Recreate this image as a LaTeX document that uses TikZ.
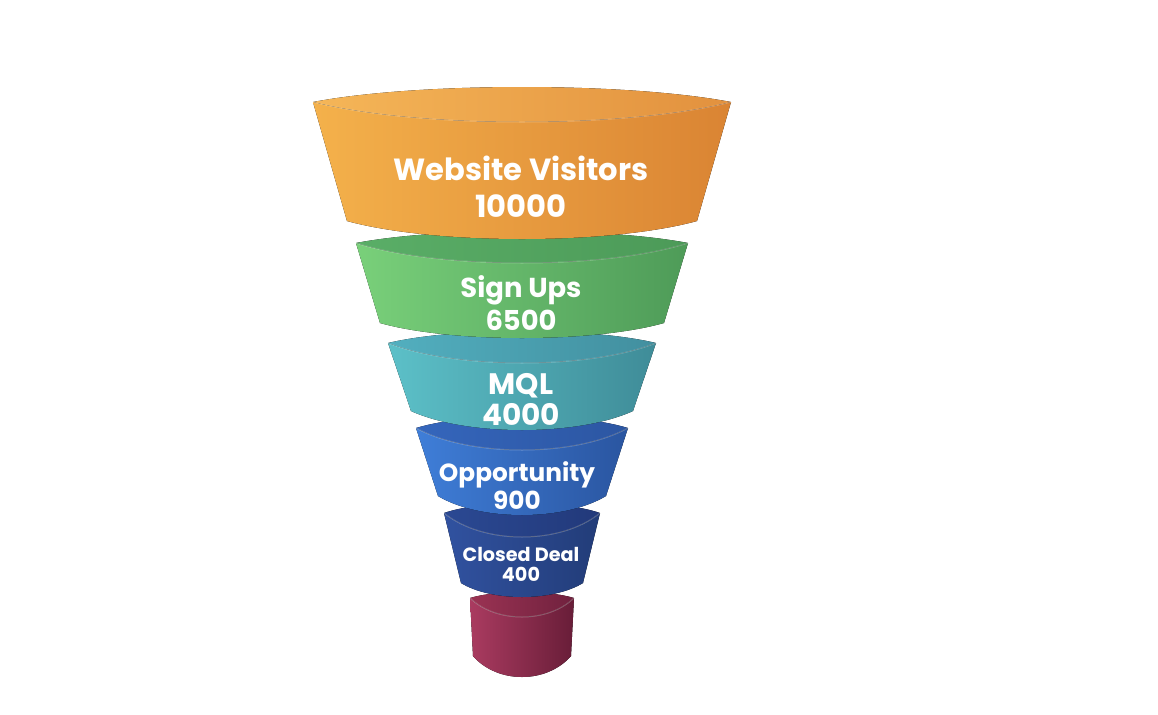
\documentclass[tikz,border=0pt]{standalone}
\usepackage{fontspec}
\setmainfont{Poppins}
\usetikzlibrary{calc}
\definecolor{c1L}{HTML}{F4B14B}\definecolor{c1R}{HTML}{DA8433}
\definecolor{c1l}{HTML}{F5B658}\definecolor{c1r}{HTML}{E2913E}
\definecolor{c2L}{HTML}{79D07A}\definecolor{c2R}{HTML}{4E9B58}
\definecolor{c2l}{HTML}{5AAE67}\definecolor{c2r}{HTML}{4C9A58}
\definecolor{c3L}{HTML}{5CC0C8}\definecolor{c3R}{HTML}{3F8C98}
\definecolor{c3l}{HTML}{52AFBF}\definecolor{c3r}{HTML}{428F9F}
\definecolor{c4L}{HTML}{3F7ED8}\definecolor{c4R}{HTML}{2A55A0}
\definecolor{c4l}{HTML}{3566BC}\definecolor{c4r}{HTML}{2C56A2}
\definecolor{c5L}{HTML}{3152A0}\definecolor{c5R}{HTML}{223C78}
\definecolor{c5l}{HTML}{2B4993}\definecolor{c5r}{HTML}{22397A}
\definecolor{c6L}{HTML}{AA3B60}\definecolor{c6R}{HTML}{681D38}
\definecolor{c6l}{HTML}{9B3353}\definecolor{c6r}{HTML}{70213E}
\tikzset{paint/.style={left color=#1L, right color=#1R},
         lid/.style={left color=#1l, right color=#1r},
         rim/.style={draw=white, draw opacity=.25, line width=.5pt},
         tag/.style 2 args={text=white, align=center, inner sep=0pt,
            font=\bfseries\fontsize{#1}{#2}\selectfont}}

\begin{document}
\begin{tikzpicture}[x=0.5pt, y=-0.5pt]
  \useasboundingbox (0,0) rectangle (1158,714);
  % slices, drawn from the bottom up
  \foreach \n/\yt/\wt/\yb/\wb/\st/\sb/\br in {
      6/598/52/656/49/19/21/6,
      5/513/78/583/61/24/14/10,
      4/428/106/496/84/22/19/12,
      3/343/134/411/111/20/19/12,
      2/243/166/323/142/20/15/12,
      1/102/209/221/175/20/18/15}
  {
    \fill[lid=c\n] (522-\wt,\yt)
      .. controls (522-\wt/2,\yt-1.333*\br) and (522+\wt/2,\yt-1.333*\br) .. (522+\wt,\yt)
      .. controls (522+\wt/2,\yt+1.333*\st) and (522-\wt/2,\yt+1.333*\st) .. (522-\wt,\yt) -- cycle;
    \fill[paint=c\n] (522-\wt,\yt)
      .. controls (522-\wt/2,\yt+1.333*\st) and (522+\wt/2,\yt+1.333*\st) .. (522+\wt,\yt)
      -- (522+\wb,\yb)
      .. controls (522+\wb/2,\yb+1.333*\sb) and (522-\wb/2,\yb+1.333*\sb) .. (522-\wb,\yb) -- cycle;
    \path[rim] (522-\wt,\yt)
      .. controls (522-\wt/2,\yt+1.333*\st) and (522+\wt/2,\yt+1.333*\st) .. (522+\wt,\yt);
  }
  % labels
  \node[tag={15.3}{18.5}] (visitors) at (521,187) {Website Visitors\\10000};
  \node[tag={13.7}{16.5}] (signups) at (521,303) {Sign Ups\\6500};
  \node[tag={14.8}{15.5}] (mql) at (521,399) {MQL\\4000};
  \node[tag={12.4}{14}] (opportunity) at (517,486) {Opportunity\\900};
  \node[tag={9.6}{10}] (closed) at (521,564) {Closed Deal\\400};
\end{tikzpicture}
\end{document}
